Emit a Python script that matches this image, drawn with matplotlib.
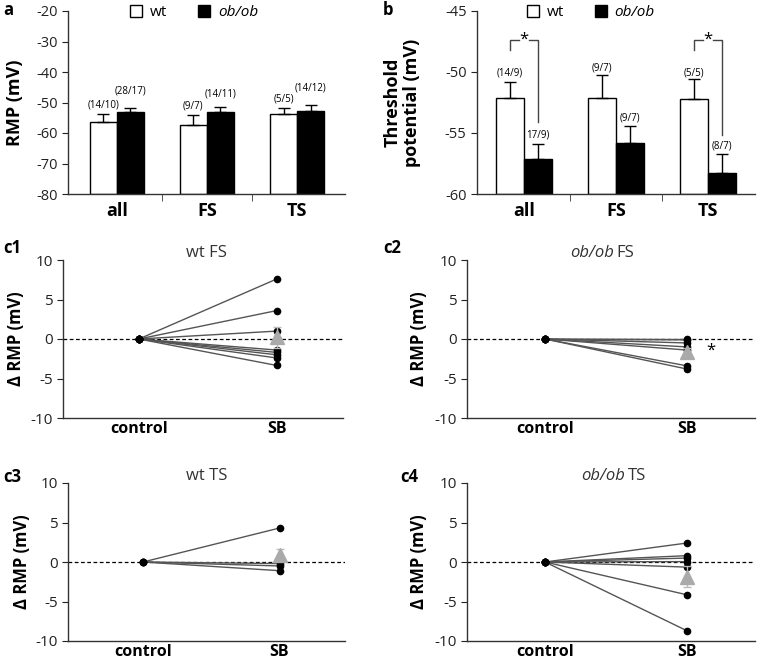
import matplotlib
matplotlib.use("Agg")
import matplotlib.pyplot as plt
from matplotlib.patches import Patch
import numpy as np

plt.rcParams['font.family'] = ['Open Sans', 'DejaVu Sans']
plt.rcParams['axes.unicode_minus'] = False

# a: resting membrane potential
cats = ["all", "FS", "TS"]
rmp_wt = [-56.3, -57.4, -53.9]
rmp_wt_err = [2.4, 3.3, 2.2]
rmp_ob = [-53.0, -53.0, -52.7]
rmp_ob_err = [1.3, 1.5, 1.8]
rmp_wt_n = ["(14/10)", "(9/7)", "(5/5)"]
rmp_ob_n = ["(28/17)", "(14/11)", "(14/12)"]

# b: threshold potential
thr_wt = [-52.1, -52.1, -52.2]
thr_wt_err = [1.3, 1.85, 1.6]
thr_ob = [-57.1, -55.85, -58.25]
thr_ob_err = [1.2, 1.45, 1.5]
thr_wt_n = ["(14/9)", "(9/7)", "(5/5)"]
thr_ob_n = ["17/9)", "(9/7)", "(8/7)"]

# c: change of RMP after SB (control = 0)
c1_sb = [7.6, 3.6, 1.0, -1.4, -1.7, -2.0, -2.4, -3.35]
c2_sb = [0.0, -0.1, -0.5, -1.0, -1.4, -3.4, -3.8]
c3_sb = [4.3, -0.2, -0.5, -1.1]
c4_sb = [2.4, 0.8, 0.5, 0.05, -0.65, -4.15, -8.7]
c_mean = [0.2, -1.6, 0.9, -1.85]
c_sem = [1.3, 0.5, 0.8, 1.3]

fig = plt.figure(figsize=(7.58, 6.65), dpi=100)
W, H = 758, 665

def box(l, t, r, b):
    return [l / W, 1 - b / H, (r - l) / W, (b - t) / H]

axcol = '#333333'

def style(ax, ls=10.5):
    for s in ['top', 'right']:
        ax.spines[s].set_visible(False)
    for s in ['left', 'bottom']:
        ax.spines[s].set_color(axcol)
        ax.spines[s].set_linewidth(1.0)
    ax.tick_params(axis='y', labelsize=ls, colors='#222222', length=4, direction='out')

def barpanel(ax, wt, wte, ob, obe, nwt, nob, ylim, yticks, ylabel, lab_wt, lab_ob, legx):
    style(ax)
    x = np.arange(len(cats))
    w = 0.3
    bot = ylim[0]
    ax.bar(x - w / 2, np.array(wt) - bot, w, bottom=bot, color='white', edgecolor='black', lw=1.0)
    ax.bar(x + w / 2, np.array(ob) - bot, w, bottom=bot, color='black', edgecolor='black', lw=1.0)
    ax.errorbar(x - w / 2, wt, yerr=[np.zeros(3), wte], fmt='none', ecolor='black', elinewidth=1, capsize=4)
    ax.errorbar(x + w / 2, ob, yerr=[np.zeros(3), obe], fmt='none', ecolor='black', elinewidth=1, capsize=4)
    for i in range(3):
        ax.text(x[i] - w / 2, lab_wt[i], nwt[i], ha='center', va='center', fontsize=7)
        ax.text(x[i] + w / 2, lab_ob[i], nob[i], ha='center', va='center', fontsize=7)
    ax.set_ylim(*ylim)
    ax.set_yticks(yticks)
    ax.set_xticks(x)
    ax.set_xticklabels(cats, fontsize=13, fontweight='bold')
    ax.set_xticks([0.5, 1.5], minor=True)
    ax.tick_params(axis='x', which='major', length=0, pad=6)
    ax.tick_params(axis='x', which='minor', length=5, color=axcol)
    ax.set_ylabel(ylabel, fontsize=13, fontweight='bold', linespacing=1.1)
    h = [Patch(facecolor='white', edgecolor='black', label='wt'),
         Patch(facecolor='black', edgecolor='black', label='ob/ob')]
    leg = ax.legend(handles=h, loc='center', bbox_to_anchor=(legx, 0.99), ncol=2, frameon=False,
                    fontsize=11, handlelength=0.8, handleheight=0.8, columnspacing=2.0, handletextpad=0.5)
    leg.get_texts()[1].set_style('italic')

# panel a
axa = fig.add_axes(box(68, 11, 345, 194))
barpanel(axa, rmp_wt, rmp_wt_err, rmp_ob, rmp_ob_err, rmp_wt_n, rmp_ob_n,
         (-80, -20), [-80, -70, -60, -50, -40, -30, -20], 'RMP (mV)',
         [-50.8, -51.1, -49.0], [-46.1, -47.3, -45.1], 0.455)
axa.set_xlim(-0.54, 2.53)
axa.yaxis.set_label_coords(-0.16, 0.5)

# panel b
axb = fig.add_axes(box(477, 11, 755, 194))
barpanel(axb, thr_wt, thr_wt_err, thr_ob, thr_ob_err, thr_wt_n, thr_ob_n,
         (-60, -45), [-60, -55, -50, -45], 'Threshold\npotential (mV)',
         [-50.1, -49.7, -50.05], [-55.2, -53.8, -56.1], 0.41)
axb.set_xlim(-0.51, 2.51)
axb.yaxis.set_label_coords(-0.2, 0.5)

# significance brackets in b
for i, ob_leg in [(0, -54.1), (2, -55.2)]:
    x0, x1 = i - 0.15, i + 0.15
    top = -47.4
    axb.plot([x0, x0, i - 0.05], [-48.2, top, top], color='#444444', lw=1)
    axb.plot([i + 0.05, x1, x1], [top, top, ob_leg], color='#444444', lw=1)
    axb.text(i, top + 0.05, '*', ha='center', va='center', fontsize=12)

fig.text(3 / W, 1 - 10 / H, 'a', fontsize=12, fontweight='bold', va='center')
fig.text(383 / W, 1 - 10 / H, 'b', fontsize=12, fontweight='bold', va='center')

# c panels
cpanels = [
    (c1_sb, box(63, 260, 343, 418), ('', 'wt FS'), 0.514, 'c1', (3, 248)),
    (c2_sb, box(467, 260, 755, 418), ('ob/ob', 'FS'), 0.514, 'c2', (383, 248)),
    (c3_sb, box(68, 483, 345, 641), ('', 'wt TS'), 0.50, 'c3', (3, 477)),
    (c4_sb, box(467, 483, 755, 641), ('ob/ob', 'TS'), 0.555, 'c4', (400, 477)),
]
for k, (vals, pos, title, tx, letter, lpos) in enumerate(cpanels):
    ax = fig.add_axes(pos)
    style(ax, 11)
    ax.axhline(0, color='black', lw=0.9, ls=(0, (3, 2)), zorder=1)
    for v in vals:
        ax.plot([1, 2], [0, v], color='#555555', lw=1.0, zorder=2)
        ax.plot([1, 2], [0, v], 'o', color='black', ms=4.5, zorder=3)
    ax.errorbar([2], [c_mean[k]], yerr=[c_sem[k]], fmt='^', color='#aaaaaa', ecolor='#bbbbbb',
                ms=10, capsize=3, elinewidth=1, zorder=4)
    ax.set_xlim(0.45, 2.48)
    ax.set_ylim(-10, 10)
    ax.set_yticks([-10, -5, 0, 5, 10])
    ax.set_xticks([1, 2])
    ax.set_xticklabels(['control', 'SB'], fontsize=11.5, fontweight='bold')
    ax.tick_params(axis='x', length=0, pad=2)
    ax.set_ylabel('Δ RMP (mV)', fontsize=12, fontweight='bold')
    ax.yaxis.set_label_coords(-0.135, 0.5)
    if title[0]:
        ax.text(tx - 0.005, 1.045, title[0], transform=ax.transAxes, ha='right', va='center',
                fontsize=12, color='#333333', style='italic')
        ax.text(tx + 0.005, 1.045, title[1], transform=ax.transAxes, ha='left', va='center',
                fontsize=12, color='#333333')
    else:
        ax.text(tx, 1.045, title[1], transform=ax.transAxes, ha='center', va='center',
                fontsize=12, color='#333333')
    fig.text(lpos[0] / W, 1 - lpos[1] / H, letter, fontsize=12, fontweight='bold', va='center')
    if k == 1:
        ax.text(2.17, -1.5, '*', ha='center', va='center', fontsize=12)

fig.savefig('out.png', dpi=100)
